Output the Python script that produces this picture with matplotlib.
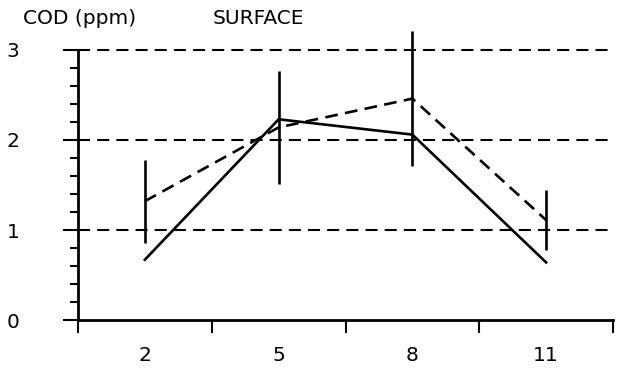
import matplotlib
matplotlib.use("Agg")
import matplotlib.pyplot as plt
from matplotlib.ticker import MultipleLocator, FixedLocator

months = [2, 5, 8, 11]
solid_vals = [0.67, 2.23, 2.06, 0.64]
dashed_vals = [1.32, 2.14, 2.46, 1.11]
dashed_err = [0.46, 0.63, 0.75, 0.33]
grid_levels = [1, 2, 3]
ytick_vals = [0, 1, 2, 3]
xtick_labels = ["2", "5", "8", "11"]

W, H = 623, 371
fig = plt.figure(figsize=(W / 100, H / 100), dpi=100)
ax = fig.add_axes([78 / W, (H - 320) / H, (613 - 78) / W, (320 - 50) / H])

fs = 14.5
ax.set_xlim(0.5, 12.5)
ax.set_ylim(0, 3)

for g in grid_levels:
    ax.axhline(g, color="black", lw=1.5, dashes=(5.8, 3.4), zorder=1, clip_on=False)

ax.plot(months, solid_vals, color="black", lw=1.9, zorder=3)
ax.plot(months, dashed_vals, color="black", lw=1.9, dashes=(4.8, 2.8), zorder=3)
ax.errorbar(months, dashed_vals, yerr=dashed_err, fmt="none", ecolor="black",
            elinewidth=1.9, capsize=0, zorder=3)
for c in ax.collections:
    c.set_clip_on(False)

for s in ["top", "right"]:
    ax.spines[s].set_visible(False)
ax.spines["left"].set_linewidth(2)
ax.spines["bottom"].set_linewidth(2)

ax.yaxis.set_major_locator(FixedLocator(ytick_vals))
ax.yaxis.set_minor_locator(MultipleLocator(0.2))
ax.tick_params(axis="y", which="major", direction="out", length=11, width=1.5,
               labelsize=fs, pad=31)
ax.tick_params(axis="y", which="minor", direction="out", length=6, width=1.5)

ax.xaxis.set_major_locator(FixedLocator(months))
ax.set_xticklabels(xtick_labels)
ax.xaxis.set_minor_locator(FixedLocator([0.5, 3.5, 6.5, 9.5, 12.5]))
ax.tick_params(axis="x", which="major", length=0, labelsize=fs, pad=19)
ax.tick_params(axis="x", which="minor", direction="out", length=9, width=1.5)

fig.text(23 / W, 1 - 18 / H, "COD (ppm)", fontsize=fs, ha="left", va="center")
fig.text(213 / W, 1 - 18 / H, "SURFACE", fontsize=fs, ha="left", va="center")

fig.savefig("out.png", dpi=100)
